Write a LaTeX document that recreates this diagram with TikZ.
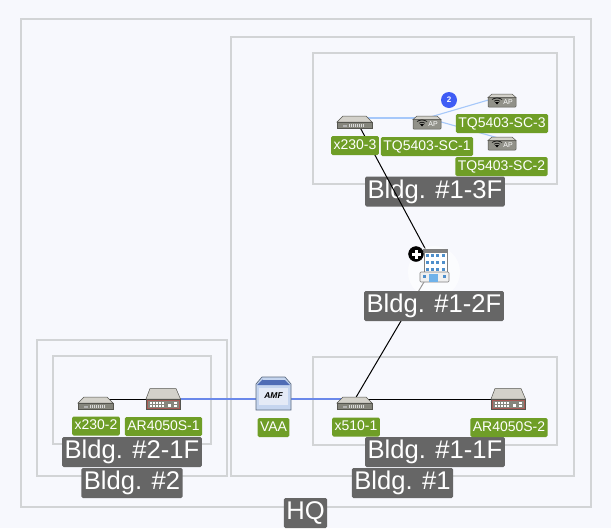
\documentclass[tikz,border=0pt]{standalone}
\usepackage{fontspec}
\setmainfont{Liberation Sans}
\definecolor{pagebg}{HTML}{F7F8FD}
\definecolor{boxline}{HTML}{D2D4D6}
\definecolor{greylabel}{HTML}{666666}
\definecolor{greenlabel}{HTML}{6F9E27}
\definecolor{lightlink}{HTML}{A6C8FA}
\definecolor{bluelink}{HTML}{6A88EA}
\definecolor{devtop}{HTML}{D3D1CA}
\definecolor{devfront}{HTML}{85857C}
\definecolor{devline}{HTML}{55554F}
\definecolor{routerred}{HTML}{A85A55}
\definecolor{vaatop}{HTML}{4F6CB5}
\definecolor{vaabody}{HTML}{C5D5EF}
\definecolor{vaapanel}{HTML}{E4EAF6}
\definecolor{vaaline}{HTML}{5A6A80}
\definecolor{window}{HTML}{4F8FCB}
\definecolor{door}{HTML}{6FB2EA}
\definecolor{badgeblue}{HTML}{3F5CF5}
\tikzset{
    area/.style={draw=boxline, line width=1.3pt},
    grouplabel/.style={fill=greylabel, text=white, rounded corners=1.5pt, inner xsep=2.5pt, inner ysep=2.75pt,
        text height=19pt, text depth=5.5pt, font=\fontsize{25.6}{26}\selectfont},
    devlabel/.style={fill=greenlabel, text=white, rounded corners=1.5pt, inner xsep=2.5pt, inner ysep=3pt,
        text height=10pt, text depth=3pt, font=\fontsize{14}{14}\selectfont},
    dev/.style={inner sep=0pt, minimum size=0pt},
    wired/.style={black, line width=1pt},
    lan/.style={bluelink, line width=1.1pt},
    wifi/.style={lightlink, line width=1.1pt},
    switchicon/.pic={
        \filldraw[draw=devline, fill=devtop, line width=.5pt] (-18,4) -- (-12,-2) -- (11,-2) -- (17,4) -- cycle;
        \filldraw[draw=devline, fill=devfront, line width=.5pt] (-18,4) rectangle (17,10.5);
        \foreach \px in {-6,-4,...,8}
            \fill[white!85!black] (\px,6) rectangle ++(1.2,3);
        \fill[white!70!black] (-12,7) rectangle ++(4,1.5);
    },
    routericon/.pic={
        \filldraw[draw=devline, fill=devtop, line width=.5pt] (-17.5,0) -- (-13.5,-10.5) -- (12.5,-10.5) -- (17,0) -- cycle;
        \filldraw[draw=devline, fill=devfront, line width=.5pt] (-17.5,0) rectangle (17,10);
        \draw[routerred, line width=.3pt] (-16.5,.8) rectangle (16,9.2);
        \foreach \px in {-14,-11,...,-2}
            \foreach \py in {2.5,5.5}
                \fill[white] (\px,\py) rectangle ++(2,2);
        \fill[white] (4,5) rectangle ++(3,3);
        \fill[white] (10,3) rectangle ++(3,1.5);
        \fill[white] (10,6) rectangle ++(3,1.5);
    },
    apicon/.pic={
        \filldraw[draw=devline, fill=devtop, line width=.5pt] (-14,1.5) -- (-10,-2) -- (10,-2) -- (14,1.5) -- cycle;
        \filldraw[draw=devline, fill=devfront!90!white, rounded corners=.8pt, line width=.5pt] (-14,1.5) rectangle (14,11);
        \draw[black, line width=.6pt] (-10,3.5) .. controls (-7,1.5) and (-3,1.5) .. (0,3.5);
        \draw[black, line width=.6pt] (-8,5.2) .. controls (-6,3.8) and (-4,3.8) .. (-2,5.2);
        \fill[black] (-7,6) -- (-3,6) -- (-5,8.5) -- cycle;
        \node[text=white, inner sep=0pt, font=\fontsize{7}{7}\selectfont] (-ap) at (6,6.5) {AP};
    },
    vaaicon/.pic={
        \filldraw[draw=vaaline, fill=vaabody, line width=.7pt] (-17,11) -- (-17,-15) -- (-11,-22) -- (12,-22) -- (18,-15) -- (18,11) -- cycle;
        \fill[vaatop] (-16,-14) -- (-10.5,-19.5) -- (11.5,-19.5) -- (17,-14) -- cycle;
        \fill[vaabody] (-10.5,-21.5) rectangle (11.5,-19.5);
        \fill[vaapanel] (-14,-11) rectangle (15,6);
        \node[black, inner sep=0pt, font=\bfseries\itshape\fontsize{8.5}{8.5}\selectfont] (-amf) at (0.5,-3) {AMF};
    },
    buildingicon/.pic={
        \filldraw[draw=gray, fill=white, line width=.5pt] (-10,-13) rectangle (13,7);
        \fill[gray] (-11,-16) rectangle (14,-13.5);
        \foreach \px in {-8.5,-3,2,7.5}
            \foreach \py in {-11,-4,3}
                \fill[window] (\px,\py) rectangle ++(3.2,3.2);
        \filldraw[draw=gray, fill=gray!12!white, rounded corners=1pt, line width=.6pt] (-14,7) rectangle (15,17);
        \fill[door] (-5,9) rectangle (4,17);
        \fill[window] (-11,10) rectangle ++(3,3);
        \fill[window] (9,10) rectangle ++(3,3);
    }
}

\begin{document}
\begin{tikzpicture}[x=1pt, y=-1pt]
    \useasboundingbox (0, 0) rectangle (611, 528);
    \fill[pagebg] (0, 0) rectangle (611, 528);

    % areas
    \draw[area] (21, 19) rectangle (591, 507);
    \draw[area] (231, 37) rectangle (574, 476);
    \draw[area] (313, 53) rectangle (557, 184);
    \draw[area] (313, 357) rectangle (557, 445);
    \draw[area] (37, 340) rectangle (227, 476);
    \draw[area] (53, 356) rectangle (211, 444);

    \node[grouplabel] (hqlabel) at (305.5, 513) {HQ};
    \node[grouplabel] (bldgonelabel) at (402.5, 483) {Bldg. \#1};
    \node[grouplabel] (bldgtwolabel) at (132, 483) {Bldg. \#2};
    \node[grouplabel] (threeflabel) at (435, 191.5) {Bldg. \#1-3F};
    \node[grouplabel] (oneflabel) at (435, 452) {Bldg. \#1-1F};
    \node[grouplabel] (twooneflabel) at (132, 452) {Bldg. \#2-1F};

    % devices
    \node[dev] (xtwothree) at (355, 118) {};
    \node[dev] (tqone) at (427, 118) {};
    \node[dev] (tqthree) at (502, 96) {};
    \node[dev] (tqtwo) at (502, 139) {};
    \node[dev] (building) at (434, 265) {};
    \node[dev] (xfive) at (355, 399) {};
    \node[dev] (artwo) at (508.5, 399) {};
    \node[dev] (vaa) at (273, 399) {};
    \node[dev] (arone) at (163.5, 399) {};
    \node[dev] (xtwotwo) at (96, 399) {};

    % links
    \draw[wifi] (xtwothree) -- (tqone);
    \draw[wifi] (tqone) -- (tqthree);
    \draw[wifi] (tqone) -- (tqtwo);
    \draw[wired] (xtwothree) -- (building);
    \draw[wired] (building) -- (xfive);
    \draw[wired] (xfive) -- (artwo);
    \draw[lan] (xfive) -- (vaa);
    \draw[lan] (vaa) -- (arone);
    \draw[wired] (arone) -- (xtwotwo);

    \fill[white, opacity=.6] (434, 272) circle (26);

    \pic at (xtwothree) {switchicon};
    \pic (tqonepic) at (tqone) {apicon};
    \pic (tqthreepic) at (tqthree) {apicon};
    \pic (tqtwopic) at (tqtwo) {apicon};
    \pic at (xfive) {switchicon};
    \pic at (xtwotwo) {switchicon};
    \pic at (arone) {routericon};
    \pic at (artwo) {routericon};
    \pic (vaapic) at (vaa) {vaaicon};
    \pic at (building) {buildingicon};

    % badge and expand mark
    \node[circle, fill=badgeblue, text=white, inner sep=0pt, minimum size=16pt, font=\bfseries\fontsize{8}{8}\selectfont] (badge) at (449, 100) {2};
    \filldraw[black] (416, 254) circle (7.5);
    \fill[white] (411.5, 252.5) rectangle (420.5, 255.5);
    \fill[white] (414.5, 249.5) rectangle (417.5, 258.5);

    % labels
    \node[grouplabel] (twoflabel) at (434, 306) {Bldg. \#1-2F};
    \node[devlabel] (xtwothreelabel) at (355, 145.5) {x230-3};
    \node[devlabel] (tqonelabel) at (427, 146.5) {TQ5403-SC-1};
    \node[devlabel] (tqthreelabel) at (502, 123.5) {TQ5403-SC-3};
    \node[devlabel] (tqtwolabel) at (501.5, 166.5) {TQ5403-SC-2};
    \node[devlabel] (xtwotwolabel) at (96, 426) {x230-2};
    \node[devlabel] (aronelabel) at (163.5, 426.5) {AR4050S-1};
    \node[devlabel] (vaalabel) at (273.5, 427.5) {VAA};
    \node[devlabel] (xfivelabel) at (356, 427) {x510-1};
    \node[devlabel] (artwolabel) at (509, 427.5) {AR4050S-2};
\end{tikzpicture}
\end{document}
